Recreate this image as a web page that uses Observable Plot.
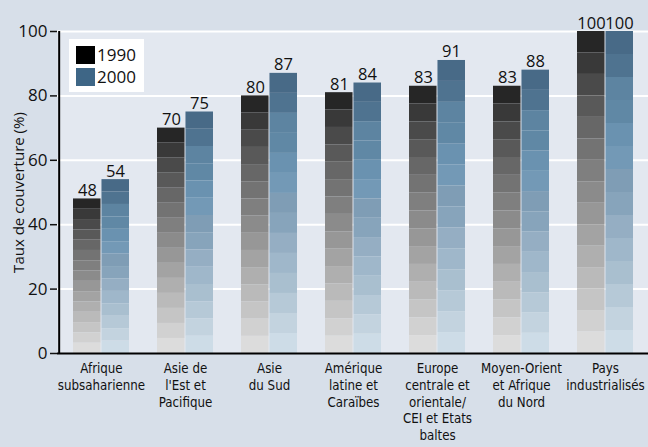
<!DOCTYPE html>
<html><head><meta charset="utf-8">
<script src="https://cdn.jsdelivr.net/npm/d3@7"></script>
<script src="https://cdn.jsdelivr.net/npm/@observablehq/plot@0.6"></script>
<style>
body{margin:0;background:#d7dfe9;}
#chart{position:relative;width:648px;height:447px;overflow:hidden;}
.legend{position:absolute;left:69px;top:39px;width:75px;height:53px;background:#fff;font-family:"Open Sans",sans-serif;font-size:17px;color:#111;}
.legend .row{position:absolute;left:7px;display:flex;align-items:center;height:19px;}
.legend .sw{width:19px;height:18px;margin-right:2px;}
</style></head><body><div id="chart"></div>
<script>
const categories = ["Afrique\nsubsaharienne", "Asie de\nl'Est et\nPacifique", "Asie\ndu Sud", "Amérique\nlatine et\nCaraïbes", "Europe\ncentrale et\norientale/\nCEI et Etats\nbaltes", "Moyen-Orient\net Afrique\ndu Nord", "Pays\nindustrialisés"];
const values1990 = [48, 70, 80, 81, 83, 83, 100];
const values2000 = [54, 75, 87, 84, 91, 88, 100];
const years = ["1990", "2000"];
const legendColors = ["#000000", "#3e6686"];
const bandColors1990 = ["#262626","#393939","#4a4a4a","#595959","#676767","#737373","#7f7f7f","#8b8b8b","#979797","#a3a3a3","#afafaf","#bababa","#c5c5c5","#d1d1d1","#dcdcdc"];
const bandColors2000 = ["#486a87","#4f7390","#5d84a1","#6088a5","#6a92b0","#7399b6","#7f9db5","#87a4bb","#95aec3","#9fb7ca","#a9bfcf","#b6c9d7","#c3d3df","#cddce7"];
const yTicks = [0, 20, 40, 60, 80, 100];
const yLabel = "Taux de couverture (%)";

const W = 648, H = 447, mL = 57, mR = 0, mT = 31, mB = 94;
const pInner = 0.337, pOuter = 0.17;
const step = (W - mL - mR) / (categories.length - pInner + 2 * pOuter);
const half = step * (1 - pInner) / 2;

function bands(values, colors, year) {
  const out = [];
  const n = colors.length;
  values.forEach((v, i) => {
    colors.forEach((c, k) => {
      out.push({cat: categories[i], year, y1: v * (n - k - 1) / n, y2: v * (n - k) / n, color: c});
    });
  });
  return out;
}
const b1990 = bands(values1990, bandColors1990, years[0]);
const b2000 = bands(values2000, bandColors2000, years[1]);
const labels1990 = categories.map((c, i) => ({cat: c, v: values1990[i]}));
const labels2000 = categories.map((c, i) => ({cat: c, v: values2000[i]}));

const font = '"Open Sans", sans-serif';
const narrow = '"DejaVu Sans Condensed", sans-serif';

const chart = Plot.plot({
  width: W, height: H,
  marginLeft: mL, marginRight: mR, marginTop: mT, marginBottom: mB,
  style: {fontFamily: font, background: "transparent", color: "#111"},
  x: {domain: categories, paddingInner: pInner, paddingOuter: pOuter, label: null},
  y: {domain: [0, 100], label: null},
  marks: [
    Plot.frame({fill: "#e3e8f0", stroke: null}),
    Plot.gridY(yTicks.filter(d => d > 0), {stroke: "#ffffff", strokeWidth: 2, strokeOpacity: 1}),
    Plot.barY(b1990, {x: "cat", y1: "y1", y2: "y2", fill: "color", insetRight: half + 0.5}),
    Plot.barY(b2000, {x: "cat", y1: "y1", y2: "y2", fill: "color", insetLeft: half + 0.5}),
    Plot.text(labels1990, {x: "cat", y: "v", text: d => String(d.v), dx: -half / 2, dy: -3, lineAnchor: "bottom", fontSize: 16.5, fill: "#111"}),
    Plot.text(labels2000, {x: "cat", y: "v", text: d => String(d.v), dx: half / 2, dy: -3, lineAnchor: "bottom", fontSize: 16.5, fill: "#111"}),
    Plot.axisY({ticks: yTicks, tickSize: 7, tickPadding: 3, fontSize: 17, strokeWidth: 1.5, label: yLabel, labelAnchor: "center", labelArrow: "none", labelOffset: 44}),
    Plot.axisX({tickSize: 0, tickPadding: 8, fontSize: 13.2, lineHeight: 1.26, fontFamily: narrow, label: null}),
    Plot.ruleY([0], {stroke: "#000", strokeWidth: 2}),
    Plot.ruleX([categories[0]], {dx: -(step * pOuter + half), stroke: "#000", strokeWidth: 2, y1: 0, y2: 100})
  ]
});
const el = document.getElementById("chart");
el.appendChild(chart);
d3.select(chart).selectAll("text").filter(function() { return this.textContent === yLabel; })
  .attr("font-size", 15).style("font-size", "15px");

const legend = document.createElement("div");
legend.className = "legend";
years.forEach((y, i) => {
  const row = document.createElement("div");
  row.className = "row";
  row.style.top = (6 + i * 22) + "px";
  row.innerHTML = `<div class="sw" style="background:${legendColors[i]}"></div><span>${y}</span>`;
  legend.appendChild(row);
});
el.appendChild(legend);
</script></body></html>
